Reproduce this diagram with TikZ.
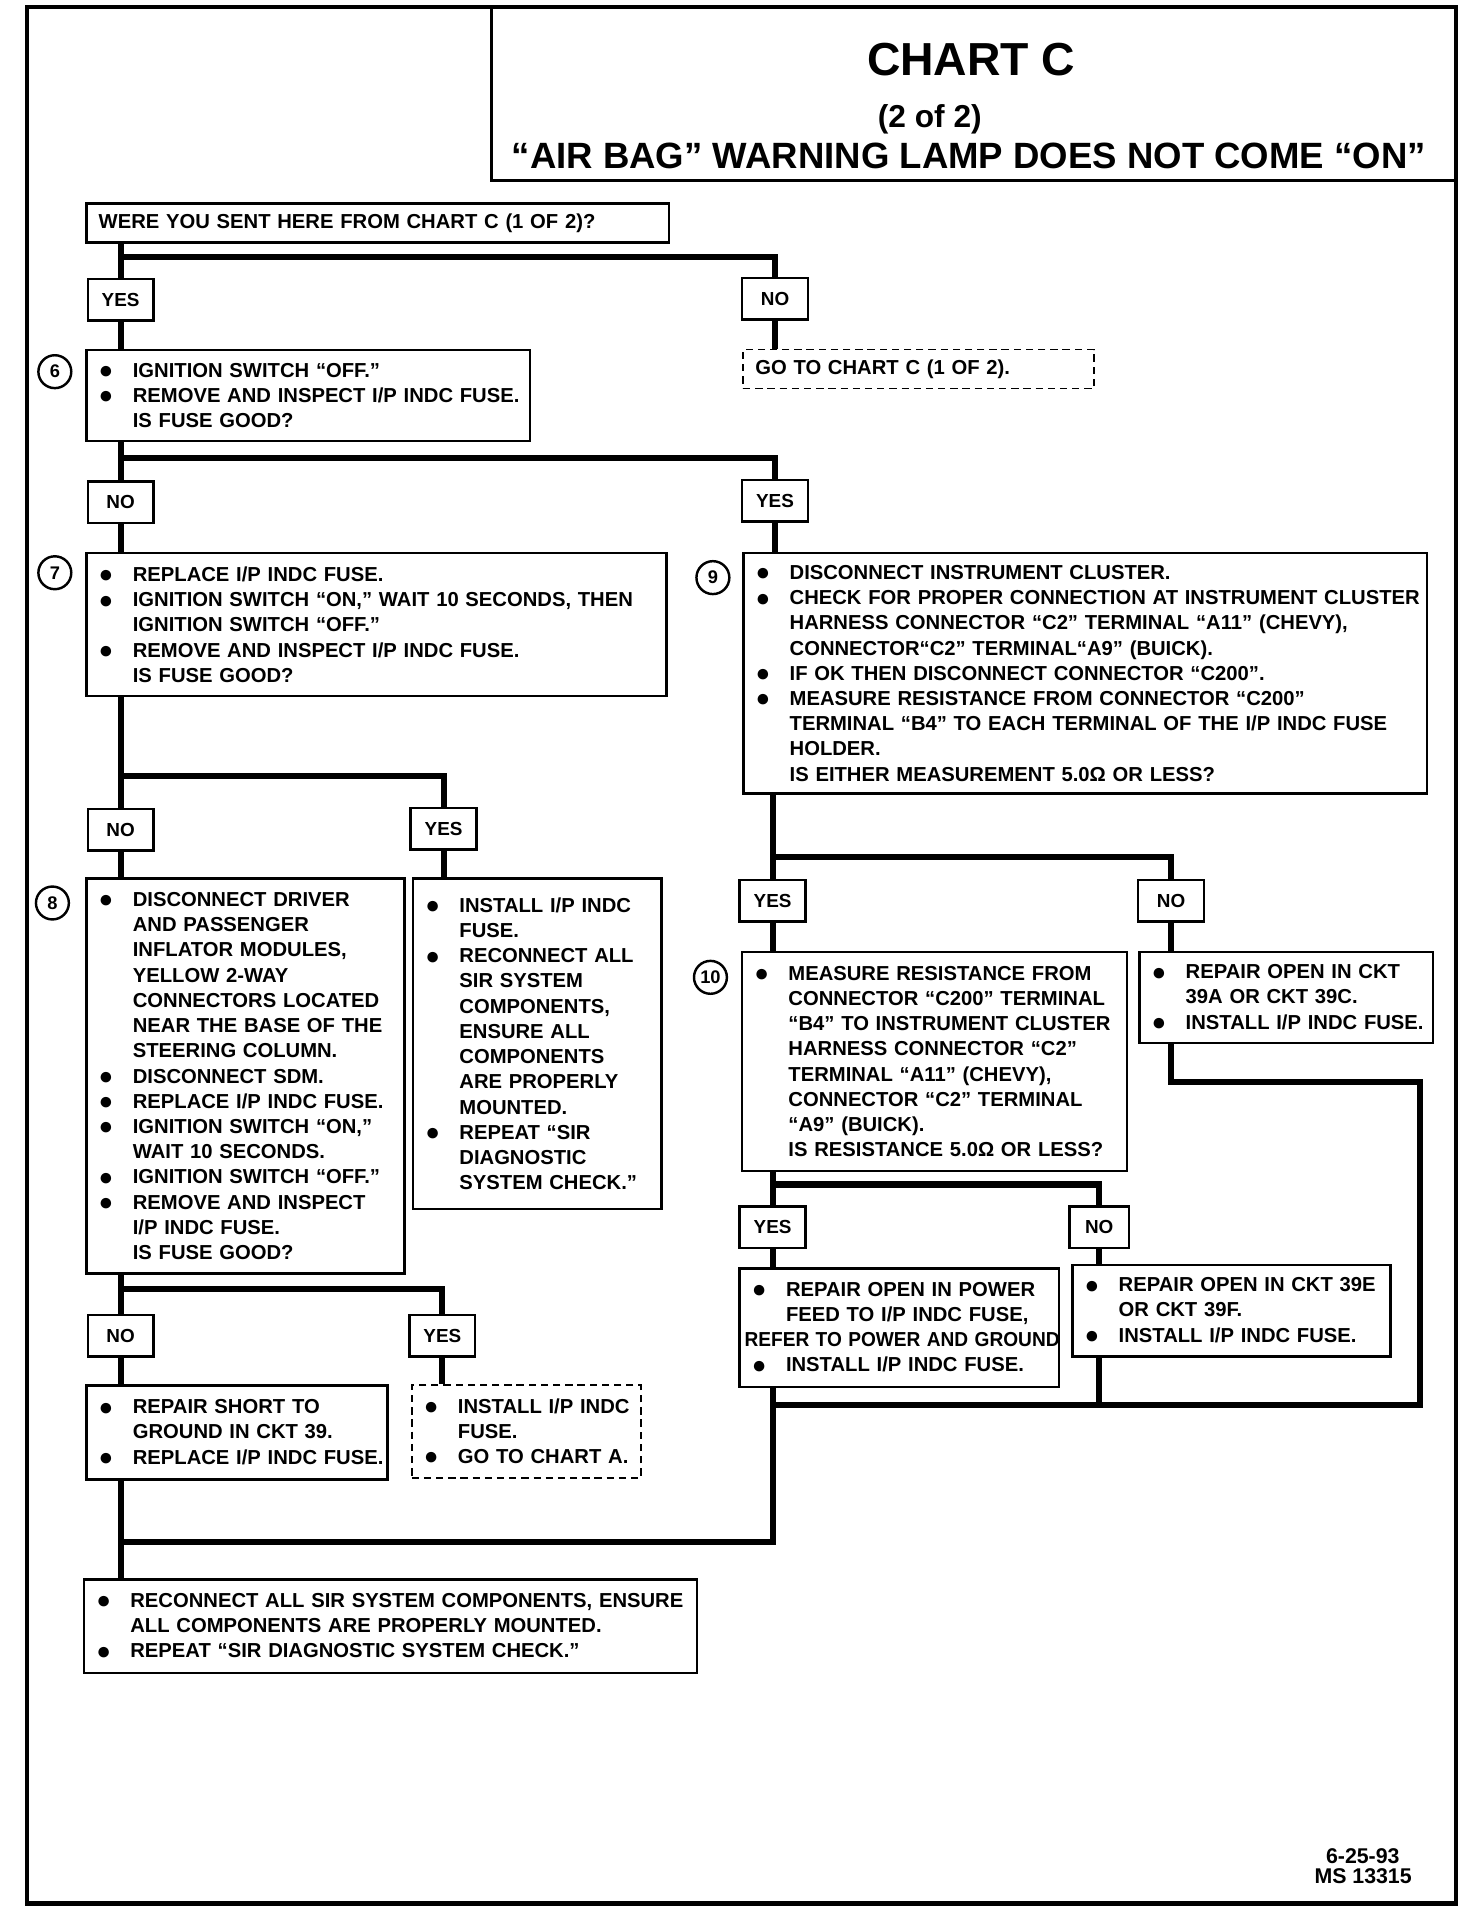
\documentclass[tikz,border=0pt]{standalone}
\usepackage{fontspec}
\usepackage{graphicx}
\setmainfont{Liberation Sans}
\newcommand{\bul}{\makebox[28pt][l]{\raisebox{-1.2pt}{\fontsize{20}{20}\selectfont ●}}}
\newcommand{\bl}[1]{\mbox{\bul#1}}
\newcommand{\cl}[1]{\mbox{\hspace*{28pt}#1}}
\begin{document}
\begin{tikzpicture}[x=1pt,y=-1pt,
	box/.style={draw,line width=2pt,anchor=north west,inner sep=0pt,align=left,font=\fontsize{16.6}{20.7}\selectfont\bfseries},
	dbox/.style={box,line width=1.6pt,dash pattern=on 6pt off 4pt},
	lab/.style={draw,line width=2pt,minimum width=54pt,minimum height=34pt,inner sep=0pt,font=\fontsize{15.5}{18}\selectfont\bfseries},
	num/.style={circle,draw,line width=2pt,minimum size=27pt,inner sep=0pt,font=\fontsize{15}{18}\selectfont\bfseries},
	flow/.style={line width=5pt}
	]
	\useasboundingbox (0,0) rectangle (1208,1569);
	\fill[white] (0,0) rectangle (1208,1569);
	\draw[line width=3.5pt] (22,6) rectangle (1195,1562);
	\draw[line width=2.5pt] (403,6) rectangle (1195,148);
	\node[anchor=base,font=\fontsize{38}{40}\selectfont\bfseries] (t1) at (797,62) {CHART C};
	\node[anchor=base,font=\fontsize{26}{28}\selectfont\bfseries] (t2) at (763,105) {(2 of 2)};
	\node[anchor=base,font=\fontsize{30}{32}\selectfont\bfseries] (t3) at (795,138) {“AIR BAG” WARNING LAMP DOES NOT COME “ON”};
	
	\def\lx{99}
	\node[box,minimum width=478pt,minimum height=32pt,text width=458pt] (q0) at (70,166) {\mbox{WERE YOU SENT HERE FROM CHART C (1 OF 2)?}};
	\node[lab] (yes0) at (\lx,246) {YES};
	\node[lab] (no0) at (636,245) {NO};
	\node[num] (n6) at (45,305) {6};
	\node[box,minimum width=364pt,minimum height=75pt,text width=344pt] (b6) at (70,286) {\bl{IGNITION SWITCH “OFF.”}\\\bl{REMOVE AND INSPECT I/P INDC FUSE.}\\\cl{IS FUSE GOOD?}};
	\node[dbox,minimum width=288pt,minimum height=32pt,text width=268pt] (go1) at (609,286) {\mbox{GO TO CHART C (1 OF 2).}};
	
	\node[lab] (no6) at (\lx,412) {NO};
	\node[lab] (yes6) at (636,411) {YES};
	\node[num] (n7) at (45,470) {7};
	\node[box,minimum width=476pt,minimum height=117pt,text width=456pt] (b7) at (70,453) {\bl{REPLACE I/P INDC FUSE.}\\
		\bl{IGNITION SWITCH “ON,” WAIT 10 SECONDS, THEN}\\\cl{IGNITION SWITCH “OFF.”}\\
		\bl{REMOVE AND INSPECT I/P INDC FUSE.}\\\cl{IS FUSE GOOD?}};
	\node[num] (n9) at (585,474) {9};
	\node[box,minimum width=561pt,minimum height=197pt,text width=541pt] (b9) at (609,453) {\bl{DISCONNECT INSTRUMENT CLUSTER.}\\
		\bl{CHECK FOR PROPER CONNECTION AT INSTRUMENT CLUSTER}\\\cl{HARNESS CONNECTOR “C2” TERMINAL “A11” (CHEVY),}\\\cl{CONNECTOR“C2” TERMINAL“A9” (BUICK).}\\
		\bl{IF OK THEN DISCONNECT CONNECTOR “C200”.}\\
		\bl{MEASURE RESISTANCE FROM CONNECTOR “C200”}\\\cl{TERMINAL “B4” TO EACH TERMINAL OF THE I/P INDC FUSE}\\\cl{HOLDER.}\\\cl{IS EITHER MEASUREMENT 5.0Ω OR LESS?}};
	
	\node[lab] (no7) at (\lx,681) {NO};
	\node[lab] (yes7) at (364,680) {YES};
	\node[num] (n8) at (43,741) {8};
	\node[box,minimum width=261pt,minimum height=324pt,text width=241pt] (b8) at (70,720) {\bl{DISCONNECT DRIVER}\\\cl{AND PASSENGER}\\\cl{INFLATOR MODULES,}\\\cl{YELLOW 2-WAY}\\\cl{CONNECTORS LOCATED}\\\cl{NEAR THE BASE OF THE}\\\cl{STEERING COLUMN.}\\
		\bl{DISCONNECT SDM.}\\
		\bl{REPLACE I/P INDC FUSE.}\\
		\bl{IGNITION SWITCH “ON,”}\\\cl{WAIT 10 SECONDS.}\\
		\bl{IGNITION SWITCH “OFF.”}\\
		\bl{REMOVE AND INSPECT}\\\cl{I/P INDC FUSE.}\\\cl{IS FUSE GOOD?}};
	\node[box,minimum width=204pt,minimum height=271pt,text width=184pt] (b8y) at (338,720) {\bl{INSTALL I/P INDC}\\\cl{FUSE.}\\
		\bl{RECONNECT ALL}\\\cl{SIR SYSTEM}\\\cl{COMPONENTS,}\\\cl{ENSURE ALL}\\\cl{COMPONENTS}\\\cl{ARE PROPERLY}\\\cl{MOUNTED.}\\
		\bl{REPEAT “SIR}\\\cl{DIAGNOSTIC}\\\cl{SYSTEM CHECK.”}};
	
	\node[lab] (yes9) at (634,739) {YES};
	\node[lab] (no9) at (961,739) {NO};
	\node[num] (n10) at (583,802) {10};
	\node[box,minimum width=316pt,minimum height=180pt,text width=296pt] (b10) at (608,780) {\bl{MEASURE RESISTANCE FROM}\\\cl{CONNECTOR “C200” TERMINAL}\\\cl{“B4” TO INSTRUMENT CLUSTER}\\\cl{HARNESS CONNECTOR “C2”}\\\cl{TERMINAL “A11” (CHEVY),}\\\cl{CONNECTOR “C2” TERMINAL}\\\cl{“A9” (BUICK).}\\\cl{IS RESISTANCE 5.0Ω OR LESS?}};
	\node[box,minimum width=241pt,minimum height=75pt,text width=221pt] (b9n) at (934,780) {\bl{REPAIR OPEN IN CKT}\\\cl{39A OR CKT 39C.}\\\bl{INSTALL I/P INDC FUSE.}};
	
	\node[lab] (yes10) at (634,1007) {YES};
	\node[lab,minimum width=49pt] (no10) at (902,1007) {NO};
	\node[box,minimum width=262pt,minimum height=97pt,text width=242pt] (b10y) at (606,1040) {\bl{REPAIR OPEN IN POWER}\\\cl{FEED TO I/P INDC FUSE,}\\\mbox{\hspace*{-6pt}\scalebox{0.945}[1]{REFER TO POWER AND GROUND}}\\\bl{INSTALL I/P INDC FUSE.}};
	\node[box,minimum width=261pt,minimum height=75pt,text width=241pt] (b10n) at (879,1037) {\bl{REPAIR OPEN IN CKT 39E}\\\cl{OR CKT 39F.}\\\bl{INSTALL I/P INDC FUSE.}};
	
	\node[lab] (no8) at (\lx,1096) {NO};
	\node[lab] (yes8) at (363,1096) {YES};
	\node[box,minimum width=247pt,minimum height=77pt,text width=227pt] (b8n) at (70,1136) {\bl{REPAIR SHORT TO}\\\cl{GROUND IN CKT 39.}\\\bl{REPLACE I/P INDC FUSE.}};
	\node[dbox,minimum width=188pt,minimum height=76pt,text width=168pt] (b8yy) at (337,1136) {\bl{INSTALL I/P INDC}\\\cl{FUSE.}\\\bl{GO TO CHART A.}};
	
	\node[box,minimum width=503pt,minimum height=77pt,text width=483pt] (fin) at (68,1295) {\bl{RECONNECT ALL SIR SYSTEM COMPONENTS, ENSURE}\\\cl{ALL COMPONENTS ARE PROPERLY MOUNTED.}\\\bl{REPEAT “SIR DIAGNOSTIC SYSTEM CHECK.”}};
	
	\node[anchor=base east,font=\fontsize{17.5}{20}\selectfont\bfseries] (d1) at (1152,1529) {6-25-93};
	\node[anchor=base east,font=\fontsize{17.5}{20}\selectfont\bfseries] (d2) at (1162,1546) {MS 13315};
	
	% branch points
	\coordinate (j0) at (\lx,211);
	\coordinate (j6) at (\lx,376);
	\coordinate (j7) at (\lx,637);
	\coordinate (j9) at (634,703);
	\coordinate (j10) at (634,972);
	\coordinate (j8) at (\lx,1058);
	\coordinate (mr) at (1165,888);
	\coordinate (mb) at (1165,1153);
	\coordinate (ml) at (yes10 |- mb);
	\coordinate (mj) at (\lx,1265);
	
	\draw[flow] (q0.south -| yes0) -- (yes0); \draw[flow] (j0) -| (no0);
	\draw[flow] (yes0) -- (b6.north -| yes0); \draw[flow] (no0) -- (go1.north -| no0);
	\draw[flow] (b6.south -| no6) -- (no6); \draw[flow] (j6) -| (yes6);
	\draw[flow] (no6) -- (b7.north -| no6); \draw[flow] (yes6) -- (b9.north -| yes6);
	\draw[flow] (b7.south -| no7) -- (no7); \draw[flow] (j7) -| (yes7);
	\draw[flow] (no7) -- (b8.north -| no7); \draw[flow] (yes7) -- (b8y.north -| yes7);
	\draw[flow] (b9.south -| yes9) -- (yes9); \draw[flow] (j9) -| (no9);
	\draw[flow] (yes9) -- (b10.north -| yes9); \draw[flow] (no9) -- (b9n.north -| no9);
	\draw[flow] (b10.south -| yes10) -- (yes10); \draw[flow] (j10) -| (no10);
	\draw[flow] (yes10) -- (b10y.north -| yes10); \draw[flow] (no10) -- (b10n.north -| no10);
	\draw[flow] (b8.south -| no8) -- (no8); \draw[flow] (j8) -| (yes8);
	\draw[flow] (no8) -- (b8n.north -| no8); \draw[flow] (yes8) -- (b8yy.north -| yes8);
	
	\draw[flow] (b9n.south -| no9) |- (mr) -- (mb) -- (ml);
	\draw[flow] (b10n.south -| no10) -- (no10 |- mb);
	\draw[flow] (b10y.south -| yes10) -- (ml) |- (mj);
	\draw[flow] (b8n.south -| no8) -- (fin.north -| no8);
\end{tikzpicture}
\end{document}
